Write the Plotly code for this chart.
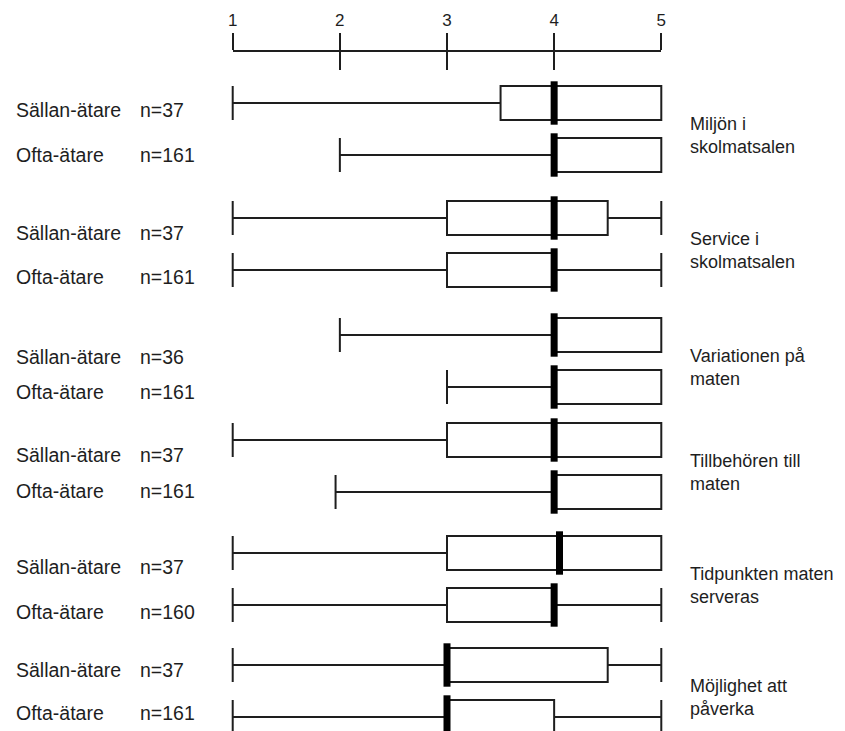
import plotly.graph_objects as go

# ---------------- data ----------------
categories = ["Miljön i<br>skolmatsalen", "Service i<br>skolmatsalen", "Variationen på<br>maten",
              "Tillbehören till<br>maten", "Tidpunkten maten<br>serveras", "Möjlighet att<br>påverka"]
group_names = ["Sällan-ätare", "Ofta-ätare"]
n_sallan = [37, 37, 36, 37, 37, 37]
n_ofta = [161, 161, 161, 161, 160, 161]

sallan_min = [1, 1, 2, 1, 1, 1]
sallan_q1 = [3.5, 3, 4, 3, 3, 3]
sallan_med = [4, 4, 4, 4, 4.05, 3]
sallan_q3 = [5, 4.5, 5, 5, 5, 4.5]
sallan_max = [5, 5, 5, 5, 5, 5]

ofta_min = [2, 1, 3, 1.96, 1, 1]
ofta_q1 = [4, 3, 4, 4, 3, 3]
ofta_med = [4, 4, 4, 4, 4, 3]
ofta_q3 = [5, 4, 5, 5, 4, 4]
ofta_max = [5, 5, 5, 5, 5, 5]

tick_vals = [1, 2, 3, 4, 5]
tick_text = ["1", "2", "3", "4", "5"]

# ---------------- layout constants ----------------
OFF = 8                      # page body margin in the browser
W, H = 845, 731
PLOT_L, PLOT_R = 222, 672    # screen pixels of the plot area
PLOT_T = 51
ML = PLOT_L - OFF
MR = W - (PLOT_R - OFF)
MT = PLOT_T - OFF
MB = 0
X0, X1 = 0.9, 5.1
PW = PLOT_R - PLOT_L
FONT = "Liberation Sans, Arial, sans-serif"
INK = "#1e1e1e"

GROUP_TOP = [103, 218, 335, 440, 553, 665]   # screen y of first row in each group
ROW_GAP = 52
LABEL_DY = [[7, 0], [15, 7], [22, 5], [15, -1], [14, 7], [5, -4]]
BOX_H = 34


def px_x(px):
    return (px - PLOT_L) / PW


ys, q1s, meds, q3s, los, his = [], [], [], [], [], []
stats = [
    (sallan_min, sallan_q1, sallan_med, sallan_q3, sallan_max),
    (ofta_min, ofta_q1, ofta_med, ofta_q3, ofta_max),
]
for g in range(len(categories)):
    for r in range(2):
        mn, a, m, b, mx = (s[g] for s in stats[r])
        ys.append(GROUP_TOP[g] + r * ROW_GAP)
        los.append(mn)
        q1s.append(a)
        meds.append(m)
        q3s.append(b)
        his.append(mx)

fig = go.Figure()

fig.add_trace(go.Box(
    orientation="h", y=ys, q1=q1s, median=meds, q3=q3s,
    lowerfence=los, upperfence=his, width=BOX_H, whiskerwidth=1,
    fillcolor="white", line=dict(color=INK, width=2),
    boxpoints=False, hoverinfo="skip", showlegend=False,
))

fig.add_trace(go.Scatter(
    x=meds, y=ys, mode="markers", hoverinfo="skip", showlegend=False,
    marker=dict(symbol="line-ns", size=BOX_H - 3, color="black",
                line=dict(width=7, color="black")),
))

# invisible traces that carry the top scale axes
for ax in ("x2", "x3"):
    fig.add_trace(go.Scatter(x=[3], y=[-1000], xaxis=ax, yaxis="y", mode="markers",
                             marker=dict(opacity=0), hoverinfo="skip", showlegend=False))

annotations = []
for g in range(len(categories)):
    for r in range(2):
        y = GROUP_TOP[g] + r * ROW_GAP + LABEL_DY[g][r]
        n = (n_sallan if r == 0 else n_ofta)[g]
        annotations.append(dict(x=px_x(14), y=y, xref="paper", yref="y", text=group_names[r],
                                showarrow=False, xanchor="left", yanchor="middle",
                                font=dict(family=FONT, size=19.5, color=INK)))
        annotations.append(dict(x=px_x(138), y=y, xref="paper", yref="y", text=f"n={n}",
                                showarrow=False, xanchor="left", yanchor="middle",
                                font=dict(family=FONT, size=19.5, color=INK)))
    annotations.append(dict(x=px_x(688), y=GROUP_TOP[g] + 32, xref="paper", yref="y",
                            text=categories[g], showarrow=False, xanchor="left",
                            yanchor="middle", align="left",
                            font=dict(family=FONT, size=18, color=INK)))

d0 = (1 - X0) / (X1 - X0)
d1 = (5 - X0) / (X1 - X0)

fig.update_layout(
    width=W, height=H,
    margin=dict(l=ML, r=MR, t=MT, b=MB, pad=0),
    paper_bgcolor="white", plot_bgcolor="rgba(0,0,0,0)",
    showlegend=False,
    xaxis=dict(range=[X0, X1], visible=False, showgrid=False, zeroline=False),
    xaxis2=dict(range=[1, 5], domain=[d0, d1], anchor="free", position=1, side="top",
                tickvals=tick_vals, ticktext=tick_text, ticks="outside", ticklen=17,
                tickwidth=2, tickcolor=INK, showline=True, linecolor=INK, linewidth=2,
                showgrid=False, zeroline=False,
                tickfont=dict(family=FONT, size=17, color=INK)),
    xaxis3=dict(range=[1, 5], domain=[d0, d1], anchor="free", position=1, side="top",
                tickvals=tick_vals, ticks="inside", ticklen=18, tickwidth=2, tickcolor=INK,
                showticklabels=False, showline=False, showgrid=False, zeroline=False),
    yaxis=dict(range=[H - MB + OFF, PLOT_T], visible=False, showgrid=False, zeroline=False),
    annotations=annotations,
)

fig.write_html("out.html")
